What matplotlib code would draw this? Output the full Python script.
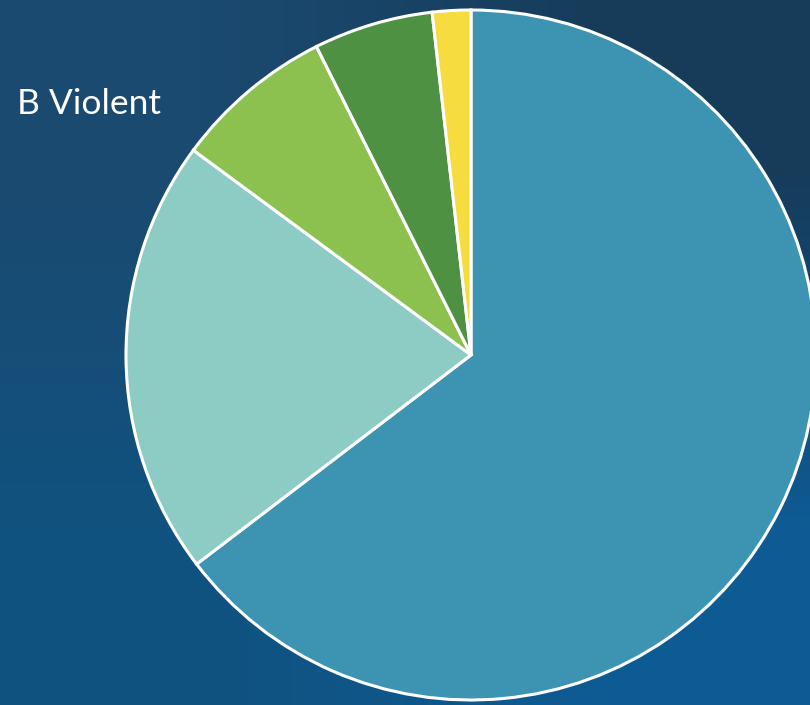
import numpy as np
import matplotlib
matplotlib.use("Agg")
import matplotlib.pyplot as plt
from matplotlib.colors import to_rgb

# Datos del gráfico (porcentajes)
labels = ["A", "B", "C", "D", "E"]
values = [64.7, 20.5, 7.5, 5.6, 1.8]
colors = ["#3d94b2", "#8dccc5", "#8cc150", "#4f9142", "#f6dc3e"]
title = "B Violent"

fig = plt.figure(figsize=(8.1, 7.05), dpi=100)

# fondo con degradado azul
bg = fig.add_axes([0, 0, 1, 1])
corners = np.array([
    [to_rgb("#1b4a70"), to_rgb("#163c5a")],
    [to_rgb("#10527f"), to_rgb("#0e5b94")],
])
bg.imshow(corners, extent=[0, 1, 0, 1], aspect="auto",
          interpolation="bilinear", origin="upper")
bg.set_axis_off()

# pie: centro (471, 355) px, radio 345 px
cx, cy, r = 471, 355, 345
W, H = 810, 705
ax = fig.add_axes([(cx - r) / W, (H - cy - r) / H, 2 * r / W, 2 * r / H])
ax.pie(values, colors=colors, startangle=90, counterclock=False,
       wedgeprops=dict(edgecolor="white", linewidth=2.2))
ax.set_xlim(-1, 1)
ax.set_ylim(-1, 1)
ax.set_aspect("equal")
ax.set_axis_off()
for p in ax.patches:
    p.set_clip_on(False)

fig.text(17 / W, 1 - 104 / H, title, color="white", fontsize=25.5,
         family=["Lato", "DejaVu Sans"], va="center", ha="left")

fig.savefig("out.png", dpi=100)
